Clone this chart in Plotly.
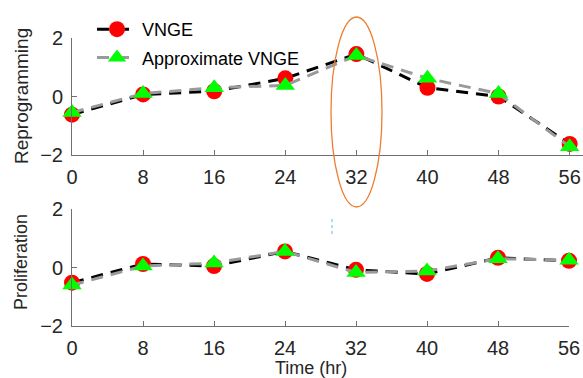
import plotly.graph_objects as go

time_hr = [0, 8, 16, 24, 32, 40, 48, 56]
x_ticks = [0, 8, 16, 24, 32, 40, 48, 56]
y_ticks = [-2, 0, 2]

reprog_vnge = [-0.62, 0.07, 0.18, 0.62, 1.45, 0.30, 0.00, -1.62]
reprog_approx = [-0.55, 0.10, 0.30, 0.38, 1.40, 0.62, 0.10, -1.72]
prolif_vnge = [-0.52, 0.12, 0.05, 0.55, -0.08, -0.22, 0.33, 0.23]
prolif_approx = [-0.60, 0.05, 0.15, 0.55, -0.17, -0.12, 0.30, 0.25]

W, H = 583, 378
FONT = "Liberation Sans, Arial, Helvetica, sans-serif"
TXT = "#262626"
AX = "#707070"

fig = go.Figure()

def add_pair(yv, ya, xa, yaxis, show):
    fig.add_trace(go.Scatter(
        x=time_hr, y=yv, xaxis=xa, yaxis=yaxis, mode="lines+markers",
        name="VNGE", showlegend=show, legendgroup="v",
        line=dict(color="black", width=3, dash="12px,8px"),
        marker=dict(symbol="circle", size=16, color="#ff0000"),
        cliponaxis=False))
    fig.add_trace(go.Scatter(
        x=time_hr, y=ya, xaxis=xa, yaxis=yaxis, mode="lines+markers",
        name="Approximate VNGE", showlegend=show, legendgroup="a",
        line=dict(color="#9a9a9a", width=3, dash="12px,8px"),
        marker=dict(symbol="triangle-up", size=17, color="#00ff00"),
        cliponaxis=False))

add_pair(reprog_vnge, reprog_approx, "x", "y", True)
add_pair(prolif_vnge, prolif_approx, "x2", "y2", False)

def px_x(p):
    return p / W

def px_y(p):
    return 1 - p / H

axis_common = dict(
    showgrid=False, zeroline=False, showline=True, linecolor=AX, linewidth=1,
    ticks="inside", ticklen=5, tickcolor=AX, tickwidth=1, automargin=False,
    tickfont=dict(family=FONT, size=20, color=TXT),
)

fig.update_layout(
    width=W, height=H,
    margin=dict(l=0, r=0, t=0, b=0, autoexpand=False),
    paper_bgcolor="white", plot_bgcolor="white",
    xaxis=dict(axis_common, domain=[px_x(72), 1.0], range=[0, 57.5], anchor="y",
               tickvals=x_ticks, ticklabelstandoff=4),
    yaxis=dict(axis_common, domain=[px_y(155), px_y(38)], range=[-2, 2], anchor="x",
               tickvals=y_ticks, ticklabelstandoff=4),
    xaxis2=dict(axis_common, domain=[px_x(72), px_x(569)], range=[0, 56], anchor="y2",
                tickvals=x_ticks, ticklabelstandoff=4),
    yaxis2=dict(axis_common, domain=[px_y(326), px_y(209)], range=[-2, 2], anchor="x2",
                tickvals=y_ticks, ticklabelstandoff=4),
    legend=dict(x=px_x(92), y=px_y(11), xanchor="left", yanchor="top",
                bgcolor="rgba(0,0,0,0)", font=dict(family=FONT, size=18, color="black"),
                itemwidth=40, tracegroupgap=2),
    showlegend=True,
)

ann_font = dict(family=FONT, size=18, color=TXT)
fig.add_annotation(text="Reprogramming", textangle=-90, xref="paper", yref="paper",
                   x=px_x(21), y=px_y(96), xanchor="center", yanchor="middle",
                   showarrow=False, font=dict(family=FONT, size=19, color=TXT))
fig.add_annotation(text="Proliferation", textangle=-90, xref="paper", yref="paper",
                   x=px_x(21), y=px_y(262), xanchor="center", yanchor="middle",
                   showarrow=False, font=ann_font)
fig.add_annotation(text="Time (hr)", xref="paper", yref="paper",
                   x=px_x(311), y=px_y(368), xanchor="center", yanchor="middle",
                   showarrow=False, font=ann_font)

fig.add_shape(type="circle", xref="paper", yref="paper",
              x0=px_x(331), x1=px_x(382), y0=px_y(207), y1=px_y(17),
              line=dict(color="#ED7D31", width=1.3))
fig.add_shape(type="line", xref="paper", yref="paper",
              x0=px_x(332), x1=px_x(332), y0=px_y(234), y1=px_y(219),
              line=dict(color="#7cc4f0", width=1.2, dash="3px,3px"))

fig.write_html("out.html")
